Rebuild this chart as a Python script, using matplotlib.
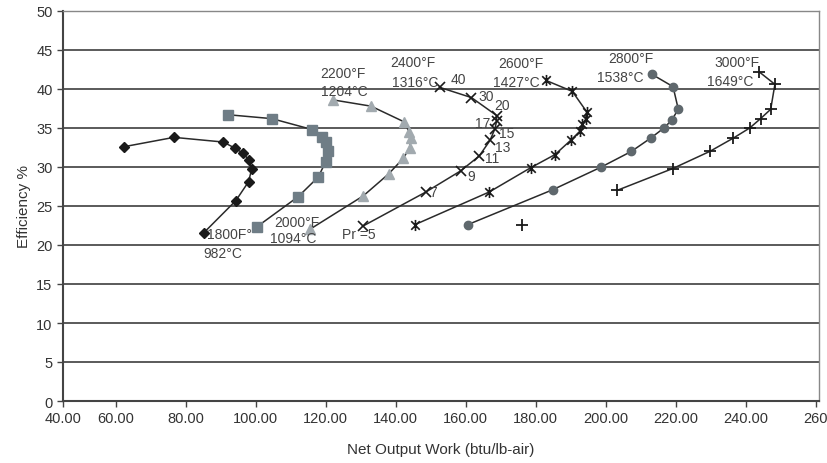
import numpy as np
import matplotlib
matplotlib.use('Agg')
import matplotlib.pyplot as plt
from matplotlib.path import Path

# Net output work (btu/lb-air) and efficiency (%) for each turbine inlet temperature
work_1800 = [62.3, 76.6, 90.7, 94.1, 96.2, 98.1, 98.8, 97.9, 94.3, 85.2]
eff_1800 = [32.6, 33.8, 33.2, 32.4, 31.8, 30.9, 29.7, 28.1, 25.7, 21.6]

work_2000 = [92.1, 104.6, 116.1, 118.9, 120.0, 120.6, 120.0, 117.8, 112.1, 100.2]
eff_2000 = [36.7, 36.2, 34.8, 33.9, 33.2, 32.0, 30.7, 28.7, 26.2, 22.3]

work_2200 = [122.1, 132.9, 142.3, 143.8, 144.2, 144.0, 142.1, 137.9, 130.7, 115.4]
eff_2200 = [38.6, 37.8, 35.8, 34.5, 33.7, 32.5, 31.1, 29.1, 26.3, 22.0]

work_2400 = [152.6, 161.6, 168.8, 168.8, 168.3, 166.9, 163.8, 158.5, 148.6, 130.5]
eff_2400 = [40.2, 38.9, 36.6, 35.9, 34.9, 33.4, 31.4, 29.5, 26.8, 22.4]

work_2600 = [182.9, 190.4, 194.5, 194.2, 193.3, 192.6, 189.9, 185.5, 178.5, 166.7, 145.4]
eff_2600 = [41.1, 39.7, 37.1, 36.1, 35.5, 34.6, 33.4, 31.6, 29.9, 26.8, 22.6]

work_2800 = [213.1, 219.2, 220.7, 218.8, 216.6, 212.8, 207.3, 198.7, 184.9, 160.5]
eff_2800 = [41.9, 40.3, 37.4, 36.0, 35.0, 33.7, 32.0, 30.0, 27.1, 22.6]

work_3000 = [243.8, 248.3, 247.1, 244.2, 241.1, 236.4, 229.7, 219.1, 203.2]
eff_3000 = [42.2, 40.6, 37.4, 36.2, 35.0, 33.7, 32.0, 29.8, 27.0]
# lone Pr=5 point of the 3000F curve (not joined to the line)
work_3000_pr5 = [175.9]
eff_3000_pr5 = [22.6]

pr_labels = ['40', '30', '20', '17', '15', '13', '11', '9', '7', 'Pr =5']
pr_label_pos = [(157.8, 41.3), (165.7, 39.1), (170.4, 37.9), (164.8, 35.7), (171.6, 34.4),
                (170.5, 32.6), (167.5, 31.1), (161.6, 28.9), (150.7, 26.8), (129.5, 21.4)]

temp_labels = [('1800F°', '982°C'), ('2000°F', '1094°C'), ('2200°F', '1204°C'),
               ('2400°F', '1316°C'), ('2600°F', '1427°C'), ('2800°F', '1538°C'),
               ('3000°F', '1649°C')]
temp_label_pos = [((86.0, 21.4), (90.7, 19.0)), ((111.6, 23.0), (110.7, 20.9)),
                  ((124.9, 42.1), (125.4, 39.7)), ((144.9, 43.4), (145.4, 40.9)),
                  ((175.6, 43.3), (174.5, 40.9)), ((207.1, 44.0), (204.0, 41.6)),
                  ((237.5, 43.4), (235.4, 41.0))]

x_tick_pos = [44.9, 60, 80, 100, 120, 140, 160, 180, 200, 220, 240, 260]
x_tick_labels = ['40.00', '60.00', '80.00', '100.00', '120.00', '140.00', '160.00',
                 '180.00', '200.00', '220.00', '240.00', '260']

# Excel style star marker: x with a vertical bar
star = Path([(-1, -1), (1, 1), (-1, 1), (1, -1), (0, -1.3), (0, 1.3)],
            [Path.MOVETO, Path.LINETO, Path.MOVETO, Path.LINETO, Path.MOVETO, Path.LINETO])

plt.rcParams['font.family'] = ['Liberation Sans', 'DejaVu Sans']

fig = plt.figure(figsize=(8.28, 4.64), dpi=100)
ax = fig.add_axes([63 / 828, 1 - 402 / 464, (819 - 63) / 828, (402 - 12) / 464])

line_kw = dict(color='#2a2a2a', lw=1.1)
ax.plot(work_1800, eff_1800, marker='D', ms=5, mfc='#1a1a1a', mec='#1a1a1a', **line_kw)
ax.plot(work_2000, eff_2000, marker='s', ms=6.5, mfc='#6f7d86', mec='#6f7d86', **line_kw)
ax.plot(work_2200, eff_2200, marker='^', ms=7, mfc='#a2aaaf', mec='#a2aaaf', **line_kw)
ax.plot(work_2400, eff_2400, marker='x', ms=7, mew=1.2, mec='#1a1a1a', **line_kw)
ax.plot(work_2600, eff_2600, marker=star, ms=8, mew=1.2, mec='#1a1a1a', mfc='none', **line_kw)
ax.plot(work_2800, eff_2800, marker='o', ms=6, mfc='#5f686d', mec='#5f686d', **line_kw)
ax.plot(work_3000, eff_3000, marker='+', ms=9, mew=1.3, mec='#1a1a1a', **line_kw)
ax.plot(work_3000_pr5, eff_3000_pr5, ls='none', marker='+', ms=9, mew=1.3, mec='#1a1a1a')

txt = dict(fontsize=10, color='#444444', va='center')
for lab, (px, py) in zip(pr_labels, pr_label_pos):
    ax.text(px, py, lab, ha='center', **txt)
for i, ((tf, tc), (pf, pc)) in enumerate(zip(temp_labels, temp_label_pos)):
    ha = 'left' if i == 0 else 'center'
    ax.text(pf[0], pf[1], tf, ha=ha, **txt)
    ax.text(pc[0], pc[1], tc, ha='center', **txt)

ax.set_xlim(44.9, 260.9)
ax.set_ylim(0, 50)
ax.set_xticks(x_tick_pos)
ax.set_xticklabels(x_tick_labels)
ax.set_yticks(np.arange(0, 51, 5))
ax.tick_params(axis='both', direction='out', length=4, width=1, colors='#444444',
               labelsize=10.5, labelcolor='#333333')
ax.grid(axis='y', color='#4d4d4d', lw=1.3)
ax.set_axisbelow(True)
for side in ['left', 'bottom']:
    ax.spines[side].set_color('#444444')
    ax.spines[side].set_linewidth(1.5)
for side in ['top', 'right']:
    ax.spines[side].set_color('#888888')
    ax.spines[side].set_linewidth(1.0)

ax.set_xlabel('Net Output Work (btu/lb-air)', fontsize=11, color='#333333', labelpad=12)
ax.set_ylabel('Efficiency %', fontsize=11, color='#333333', labelpad=4)

fig.savefig('out.png', dpi=100)
